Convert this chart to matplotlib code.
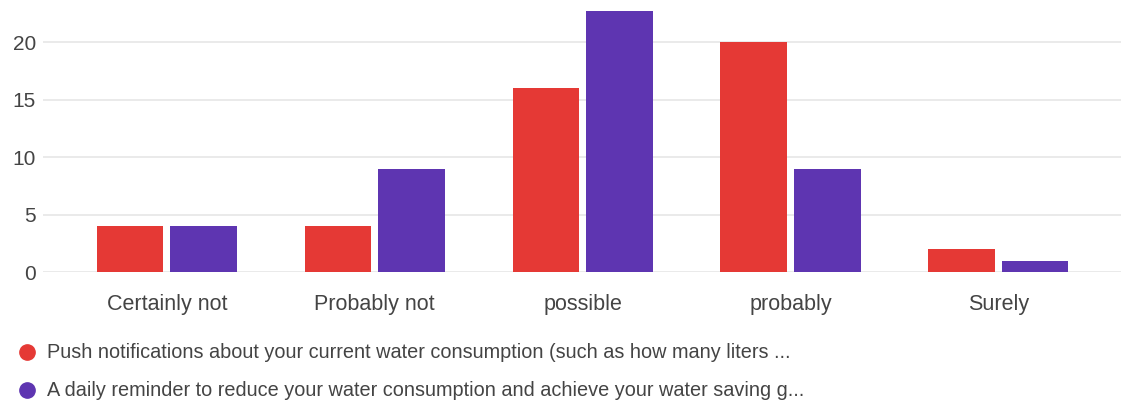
import numpy as np
import matplotlib
matplotlib.use('Agg')
import matplotlib.pyplot as plt
from matplotlib.lines import Line2D

plt.rcParams['font.family'] = ['Liberation Sans', 'DejaVu Sans']

categories = ['Certainly not', 'Probably not', 'possible', 'probably', 'Surely']
push_notes = [4, 4, 16, 20, 2]
daily_reminder = [4, 9, 23, 9, 1]
series_names = [
    'Push notifications about your current water consumption (such as how many liters ...',
    'A daily reminder to reduce your water consumption and achieve your water saving g...',
]
colors = ['#e53935', '#5e35b1']
text_col = '#444444'

fig = plt.figure(figsize=(11.21, 4.05), dpi=100)
ax = fig.add_axes([43/1121, 1 - 272/405, 1 - 43/1121, (272 - 11)/405])

x = np.arange(len(categories))
w = 0.32
ax.bar(x - 0.177, push_notes, w, color=colors[0], zorder=3)
ax.bar(x + 0.177, daily_reminder, w, color=colors[1], zorder=3)

ax.set_xlim(-0.596, 4.59)
ax.set_ylim(0, 22.7)
ax.set_yticks([0, 5, 10, 15, 20])
ax.set_xticks(x)
ax.set_xticklabels(categories)
ax.tick_params(axis='both', length=0, colors=text_col)
ax.tick_params(axis='x', pad=16, labelsize=15.5)
ax.tick_params(axis='y', pad=5, labelsize=15)
ax.grid(axis='y', color='#e6e6e6', linewidth=1.2, zorder=0)
for s in ax.spines.values():
    s.set_visible(False)

# legend drawn by hand below the axes
for i, (name, c) in enumerate(zip(series_names, colors)):
    yy = 1 - (352 + 38*i)/405
    fig.add_artist(Line2D([27/1121], [yy], marker='o', markersize=11,
                          color=c, transform=fig.transFigure))
    fig.text(47/1121, yy, name, fontsize=14.3, color=text_col, va='center')

fig.savefig('out.png', dpi=100)
